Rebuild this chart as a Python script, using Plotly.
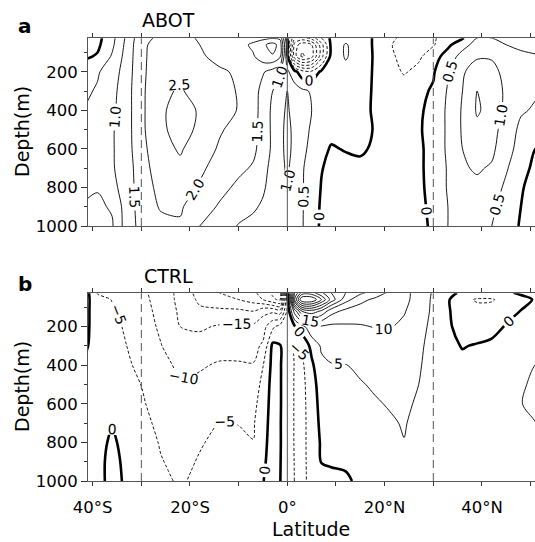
import plotly.graph_objects as go

# ---------------- grid (latitude in degrees, depth in m) ----------------
LATS = [-42, -39, -36, -33, -30, -26, -22, -18, -14, -10, -7, -5, -3, -1.5, 0, 1.5, 3, 5, 7, 9,
        12, 15, 18, 21, 24, 27, 30, 33, 36, 39, 42, 45, 48, 51, 53]
DEPTHS = [25, 60, 120, 200, 300, 400, 500, 600, 700, 800, 900, 1000]

# ---------------- panel a: ABOT (contour interval 0.5) ----------------
abot_25 = [-0.3, -0.15, 0.35, 1.1, 1.85, 2.1, 2.15, 1.95, 1.85, 1.8, 1.8, 1.85, 1.95, 1.9, 0.0, -1.5, -1.7, -1.3, -0.5, 0.1, 0.3, 0.2, -0.05, -0.4, -0.6, -0.65, -0.55, -0.3, -0.05, 0.5, 0.5, 0.4, 0.2, 0.0, -0.1]
abot_60 = [-0.25, -0.1, 0.4, 1.15, 1.9, 2.2, 2.25, 2.0, 1.85, 1.8, 2.1, 2.4, 2.7, 2.3, 0.2, -2.2, -2.8, -2.5, -1.2, 0.1, 0.55, 0.2, -0.05, -0.45, -0.7, -0.7, -0.55, -0.1, 0.3, 0.7, 0.65, 0.5, 0.4, 0.3, 0.25]
abot_120 = [-0.1, 0.05, 0.55, 1.2, 1.9, 2.25, 2.35, 2.05, 1.9, 1.8, 1.95, 2.3, 2.45, 2.1, 0.1, -2.3, -3.1, -2.7, -1.2, 0.15, 0.55, 0.25, -0.05, -0.4, -0.65, -0.6, -0.2, 0.2, 0.7, 0.95, 0.95, 0.7, 0.6, 0.55, 0.5]
abot_200 = [0.3, 0.45, 0.75, 1.25, 1.9, 2.3, 2.45, 2.15, 2.05, 1.95, 1.8, 1.55, 1.3, 1.05, 0.6, 0.15, -0.3, -0.4, 0.1, 0.25, 0.35, 0.2, -0.05, -0.3, -0.55, -0.35, -0.05, 0.45, 0.95, 1.2, 1.15, 0.85, 0.7, 0.6, 0.55]
abot_300 = [0.4, 0.55, 0.85, 1.3, 1.9, 2.4, 2.55, 2.3, 2.15, 1.97, 1.75, 1.3, 1.0, 0.9, 1.0, 0.75, 0.6, 0.45, 0.2, 0.2, 0.2, 0.15, -0.05, -0.2, -0.25, -0.1, 0.05, 0.55, 1.0, 1.5, 1.3, 0.9, 0.65, 0.55, 0.5]
abot_400 = [0.5, 0.6, 0.9, 1.3, 1.9, 2.42, 2.7, 2.45, 2.15, 1.98, 1.7, 1.3, 0.9, 0.9, 1.05, 0.85, 0.65, 0.5, 0.25, 0.15, 0.15, 0.12, -0.05, -0.15, -0.15, -0.05, 0.1, 0.6, 1.05, 1.55, 1.35, 0.85, 0.55, 0.45, 0.4]
abot_500 = [0.55, 0.65, 0.95, 1.3, 1.9, 2.4, 2.7, 2.4, 2.05, 1.85, 1.65, 1.3, 0.9, 0.9, 1.1, 0.9, 0.65, 0.45, 0.15, 0.1, 0.1, 0.1, -0.02, -0.1, -0.1, -0.03, 0.1, 0.6, 1.05, 1.4, 1.2, 0.75, 0.4, 0.2, 0.15]
abot_600 = [0.6, 0.7, 0.95, 1.3, 1.85, 2.35, 2.55, 2.25, 1.95, 1.8, 1.6, 1.3, 0.9, 0.9, 1.1, 0.9, 0.6, 0.4, 0.1, -0.03, 0.02, 0.05, -0.05, -0.1, -0.1, -0.05, 0.1, 0.6, 1.0, 1.2, 1.1, 0.7, 0.3, 0.0, -0.05]
abot_700 = [0.6, 0.7, 0.95, 1.25, 1.8, 2.25, 2.4, 2.1, 1.8, 1.6, 1.45, 1.15, 0.85, 0.9, 1.05, 0.85, 0.55, 0.3, 0.02, -0.1, -0.1, -0.08, -0.1, -0.1, -0.1, -0.05, 0.1, 0.55, 0.95, 1.05, 0.95, 0.55, 0.15, -0.1, -0.15]
abot_800 = [0.58, 0.53, 0.85, 1.25, 1.75, 2.15, 2.25, 1.95, 1.65, 1.4, 1.25, 1.05, 0.85, 0.9, 1.0, 0.8, 0.55, 0.25, -0.02, -0.1, -0.1, -0.1, -0.1, -0.1, -0.1, -0.05, 0.08, 0.55, 0.85, 0.9, 0.75, 0.4, 0.05, -0.2, -0.25]
abot_900 = [0.48, 0.42, 0.55, 1.25, 1.7, 2.05, 2.05, 1.75, 1.45, 1.2, 1.05, 0.95, 0.85, 0.9, 0.95, 0.75, 0.55, 0.2, -0.05, -0.1, -0.1, -0.1, -0.1, -0.1, -0.1, -0.05, 0.05, 0.5, 0.8, 0.8, 0.6, 0.3, 0.0, -0.25, -0.3]
abot_1000 = [0.35, 0.35, 0.45, 1.25, 1.65, 1.85, 1.95, 1.5, 1.25, 0.97, 0.9, 0.85, 0.8, 0.85, 0.9, 0.7, 0.55, 0.15, -0.05, -0.1, -0.1, -0.1, -0.1, -0.1, -0.1, -0.05, 0.03, 0.5, 0.75, 0.7, 0.5, 0.25, -0.05, -0.3, -0.35]
ABOT = [abot_25, abot_60, abot_120, abot_200, abot_300, abot_400, abot_500,
        abot_600, abot_700, abot_800, abot_900, abot_1000]

# ---------------- panel b: CTRL (contour interval 5) ----------------
ctrl_25 = [4, -5.5, -6.5, -7.5, -9, -12, -16.5, -22, -25, -27, -29, -32, -36, -38, 0, 30, 42, 42, 36, 30, 25, 21, 18, 14, 11.5, 8, 4.5, 0.8, -0.5, -1.5, -1.5, -0.5, 0.5, 1, 1.2]
ctrl_60 = [2.5, -3, -5.2, -6.5, -8.5, -12, -16.3, -21, -23, -25, -27, -30, -34, -36, -3, 35, 55, 55, 45, 33, 22, 16.5, 14, 12.5, 11.3, 8, 4.2, 0.5, -3.5, -5.5, -5.5, -3, -1, 0.3, 0.8]
ctrl_120 = [2, -2.5, -4.4, -6, -8, -11.5, -15.8, -19, -19, -19, -20, -16.5, -16, -18, -4, 12, 25, 28, 24, 17, 13.5, 12.5, 12, 11.8, 10.3, 7.8, 4, 0.5, -2.5, -3.5, -3, -1.3, 0.1, 1, 1.5]
ctrl_200 = [1.8, -2.3, -4, -5.5, -7.5, -10.8, -15, -15.7, -14.5, -14, -14, -12, -6, -3, -4, -0.3, 3, 9, 9.5, 8.8, 9.3, 9.6, 10.2, 10.3, 9.2, 7, 3.5, 0.6, -1.5, -2, -1.3, 0.3, 1.2, 2, 2.5]
ctrl_300 = [1.2, -2.2, -3.6, -5, -6.8, -9.8, -13, -13, -11.5, -11.5, -11.3, -9.3, 1.2, 0.3, -3, -5, -4.5, 1.5, 5.6, 6.5, 6.5, 7.2, 8, 8.2, 8, 6, 3.2, 1, -0.2, 0.3, 0.8, 1.6, 2.5, 3.5, 4]
ctrl_400 = [-0.5, -2.3, -3, -4.5, -5.8, -8.5, -11, -10.4, -9.6, -9.6, -9.8, -5.2, 1.5, 0.4, -2.5, -5.2, -6, -1, 4, 4.8, 4.9, 5.8, 6.5, 7, 7, 5.5, 3, 1.5, 1, 1.5, 2, 2.8, 3.8, 5.05, 5.5]
ctrl_500 = [-1, -2.3, -2.2, -4, -5.05, -7.5, -9.7, -9.2, -7.8, -7.8, -8, -3.5, 1.8, 0.4, -2.5, -5.3, -6.3, -2.5, 2.8, 3.5, 3.8, 4.7, 5.5, 6, 6.3, 5.0, 2.8, 1.8, 1.8, 2.3, 2.8, 3.5, 4.6, 5.6, 6]
ctrl_600 = [-1.2, -2.2, -1.3, -3, -4.5, -6.7, -8.5, -8, -6, -6.2, -6.5, -2.5, 1.8, 0.4, -2.5, -5.3, -6.3, -3, 2, 2.5, 2.8, 3.8, 4.6, 5.3, 5.7, 4.5, 2.7, 2, 2.3, 2.8, 3.3, 4, 4.9, 5.8, 6.1]
ctrl_700 = [-1.2, -1.8, -0.2, -2, -3.8, -6, -7.5, -6.8, -4.8, -5.1, -5.5, -1.8, 1.8, 0.3, -2.5, -5.3, -6.3, -3.2, 1.3, 1.7, 2, 2.8, 3.5, 4.5, 5.3, 3.8, 2.6, 2.2, 2.6, 3, 3.5, 4.1, 4.9, 4.95, 5.5]
ctrl_800 = [-1.2, -1.2, 0.6, -1.2, -3.2, -5.3, -6.6, -5.3, -4.2, -4.3, -4.9, -1.2, 1.7, 0.3, -2.3, -5.3, -6.3, -3.2, 0.6, 1, 1.2, 2, 2.5, 3.5, 4.9, 3.5, 2.5, 2.3, 2.7, 3.1, 3.5, 4, 4.6, 4.6, 5]
ctrl_900 = [-1.2, -1, 1, -0.8, -2.6, -4.8, -6, -4.7, -3.8, -3.8, -3.8, -0.6, 1.5, 0.2, -2.2, -5.2, -6.3, -3.3, 0.1, 0.2, 0.3, 1.2, 1.8, 2.5, 4, 3.2, 2.4, 2.3, 2.7, 3.1, 3.4, 3.8, 4.3, 4.3, 4.6]
ctrl_1000 = [-1.2, -1, 1, -0.5, -2.2, -4.3, -5.4, -4.2, -3.5, -3.4, -3.2, -0.1, 1.3, 0.1, -2, -5.1, -6.3, -3.5, -0.8, -0.5, -0.3, 0.4, 1.2, 1.8, 3.2, 3, 2.3, 2.3, 2.7, 3, 3.3, 3.6, 4, 4, 4.3]
CTRL = [ctrl_25, ctrl_60, ctrl_120, ctrl_200, ctrl_300, ctrl_400, ctrl_500,
        ctrl_600, ctrl_700, ctrl_800, ctrl_900, ctrl_1000]

# ---------------- axis / reference values ----------------
LAT_TICKS = [-40, -30, -20, -10, 0, 10, 20, 30, 40, 50]
LAT_TICK_TEXT = ["40°S", "", "20°S", "", "0°", "", "20°N", "", "40°N", ""]
DEPTH_TICKS = [200, 400, 600, 800, 1000]
DEPTH_MINOR = [100, 300, 500, 700, 900]
EQUATOR = [0]
TROPIC_LATS = [-30, 30]

FONT = "DejaVu Sans"
BLACK = [[0, "black"], [1, "black"]]

fig = go.Figure()


def add_panel(z, xa, ya, step, zmin, zmax, fmt):
    common = dict(x=LATS, y=DEPTHS, z=z, xaxis=xa, yaxis=ya, autocontour=False,
                  colorscale=BLACK, showscale=False, hoverinfo="skip")
    lab = dict(family=FONT, size=14, color="black")
    # positive (solid)
    fig.add_trace(go.Contour(**common,
                             contours=dict(start=step, end=zmax, size=step, coloring="lines",
                                           showlabels=True, labelfont=lab, labelformat=fmt),
                             line=dict(width=0.9, smoothing=0.9)))
    # negative (dashed)
    fig.add_trace(go.Contour(**common,
                             contours=dict(start=zmin, end=-step, size=step, coloring="lines",
                                           showlabels=True, labelfont=lab, labelformat=fmt),
                             line=dict(width=0.9, dash="3px,2px", smoothing=0.9)))
    # zero (thick)
    fig.add_trace(go.Contour(**common,
                             contours=dict(start=0, end=0, size=step, coloring="lines",
                                           showlabels=True, labelfont=lab, labelformat=".0f"),
                             line=dict(width=2.6, smoothing=0.9)))


add_panel(ABOT, "x", "y", 0.5, -3.0, 3.0, ".1f")
add_panel(CTRL, "x2", "y2", 5, -40, 60, ".0f")

xdom = [88 / 535, 1.0]
xrange_ = [-40.96, 50.9]
ax_common = dict(showgrid=False, zeroline=False, showline=True, linecolor="#555",
                 linewidth=1, ticks="outside", tickcolor="#333", ticklen=4,
                 automargin=False,
                 tickfont=dict(family=FONT, size=16.5, color="black"))

fig.update_layout(
    width=535, height=542, margin=dict(l=0, r=0, t=0, b=0, autoexpand=False),
    paper_bgcolor="white", plot_bgcolor="white", showlegend=False,
    font=dict(family=FONT, color="black"),
    xaxis=dict(domain=xdom, range=xrange_, anchor="y", tickvals=LAT_TICKS,
               showticklabels=False, mirror="ticks", **ax_common),
    yaxis=dict(domain=[1 - 226 / 542, 1 - 38.3 / 542], range=[1000, 26.5], anchor="x",
               tickvals=DEPTH_TICKS, minor=dict(tickvals=DEPTH_MINOR, ticklen=3,
                                                ticks="outside", tickcolor="#333"),
               **{**ax_common, "ticklen": 6}),
    xaxis2=dict(domain=xdom, range=xrange_, anchor="y2", tickvals=LAT_TICKS,
                ticktext=LAT_TICK_TEXT, mirror="ticks", ticklabelstandoff=7, **ax_common),
    yaxis2=dict(domain=[1 - 481 / 542, 1 - 293.3 / 542], range=[1000, 27.5], anchor="x2",
                tickvals=DEPTH_TICKS, minor=dict(tickvals=DEPTH_MINOR, ticklen=3,
                                                 ticks="outside", tickcolor="#333"),
                **{**ax_common, "ticklen": 6}),
)

shapes = []
for xa, yd in (("x", "y domain"), ("x2", "y2 domain")):
    for lat in EQUATOR:
        shapes.append(dict(type="line", xref=xa, yref=yd, x0=lat, x1=lat, y0=0, y1=1,
                           line=dict(color="#555", width=1)))
    for lat in TROPIC_LATS:
        shapes.append(dict(type="line", xref=xa, yref=yd, x0=lat, x1=lat, y0=0, y1=1,
                           line=dict(color="#555", width=1, dash="8px,5px")))
fig.update_layout(shapes=shapes)

ann = []
def text(s, x, y, size, bold=False, angle=0):
    ann.append(dict(text=f"<b>{s}</b>" if bold else s, x=x / 535, y=1 - y / 542,
                    xref="paper", yref="paper", showarrow=False, textangle=angle,
                    font=dict(family=FONT, size=size, color="black"),
                    xanchor="center", yanchor="middle"))

text("a", 25, 26, 20, bold=True)
text("ABOT", 168, 20, 19)
text("b", 25, 284, 20, bold=True)
text("CTRL", 168, 276, 19)
text("Depth(m)", 22, 132, 19, angle=-90)
text("Depth(m)", 22, 387, 19, angle=-90)
text("Latitude", 311, 529, 19)
fig.update_layout(annotations=ann)

fig.write_html("out.html")
